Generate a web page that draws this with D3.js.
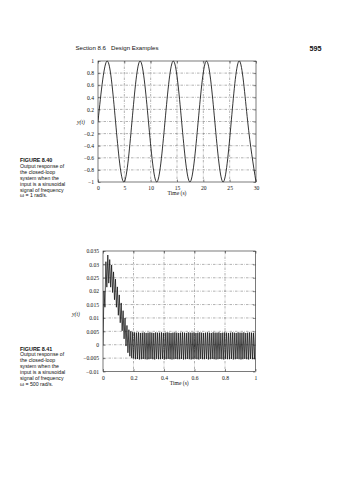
<!DOCTYPE html>
<html><head><meta charset="utf-8">
<script src="https://cdn.jsdelivr.net/npm/d3@7"></script>
<style>body{margin:0;background:#fff} svg{display:block}</style>
</head><body>
<script>
// ---------- data ----------
const topTimes  = [0,1.75,3.33,4.9,6.45,8.0,9.58,11.15,12.72,14.3,15.88,17.45,19.02,20.6,22.18,23.75,25.3,26.85,28.42,30];
const topValues = [0,1,0,-1,0,1,0,-1,0,1,0,-1,0,1,0,-1,0,1,0,-1];
const topXTicks = [0,5,10,15,20,25,30];
const topYTicks = [1,0.8,0.6,0.4,0.2,0,-0.2,-0.4,-0.6,-0.8,-1];

const botOmega = 500; // rad/s, extremes are half a period apart
const botExtremes = [
  0, 0.0200, 0.0140, 0.0310, 0.0215, 0.0335, 0.0230, 0.0318, 0.0215, 0.0298,
  0.0195, 0.0272, 0.0168, 0.0245, 0.0140, 0.0216, 0.0110, 0.0186, 0.0082, 0.0156,
  0.0052, 0.0127, 0.0022, 0.0100, -0.0005, 0.0072, -0.0030, 0.0056, -0.0043, 0.0050,
  -0.0049, 0.0047, -0.0052, 0.0046, -0.0054, 0.0045, -0.0053, 0.0046, -0.0055, 0.0044,
  -0.0054, 0.0045, -0.0053, 0.0046, -0.0054, 0.0044, -0.0055, 0.0045, -0.0054, 0.0046,
  -0.0053, 0.0045, -0.0054, 0.0044, -0.0055, 0.0046, -0.0053, 0.0045, -0.0054, 0.0045,
  -0.0054, 0.0046, -0.0053, 0.0044, -0.0055, 0.0045, -0.0054, 0.0046, -0.0053, 0.0045,
  -0.0054, 0.0044, -0.0055, 0.0045, -0.0054, 0.0046, -0.0053, 0.0045, -0.0054, 0.0044,
  -0.0054, 0.0045, -0.0053, 0.0046, -0.0055, 0.0045, -0.0054, 0.0044, -0.0053, 0.0046,
  -0.0054, 0.0045, -0.0055, 0.0045, -0.0054, 0.0046, -0.0053, 0.0044, -0.0054, 0.0045,
  -0.0055, 0.0046, -0.0053, 0.0045, -0.0054, 0.0044, -0.0054, 0.0045, -0.0053, 0.0046,
  -0.0055, 0.0045, -0.0054, 0.0044, -0.0053, 0.0046, -0.0054, 0.0045, -0.0055, 0.0045,
  -0.0054, 0.0046, -0.0053, 0.0044, -0.0054, 0.0045, -0.0055, 0.0046, -0.0053, 0.0045,
  -0.0054, 0.0044, -0.0054, 0.0045, -0.0053, 0.0046, -0.0055, 0.0045, -0.0054, 0.0044,
  -0.0053, 0.0046, -0.0054, 0.0045, -0.0055, 0.0045, -0.0054, 0.0046, -0.0053, 0.0044,
  -0.0054, 0.0045, -0.0055, 0.0046, -0.0053, 0.0045, -0.0054, 0.0044, -0.0054, 0.0045
];
const botXTicks = [0,0.2,0.4,0.6,0.8,1];
const botYTicks = [0.035,0.03,0.025,0.02,0.015,0.01,0.005,0,-0.005,-0.01];

const headerLeft = "Section 8.6   Design Examples";
const headerPage = "595";
const captionTopTitle = "FIGURE 8.40";
const captionTopLines = ["Output response of","the closed-loop","system when the","input is a sinusoidal","signal of frequency","\u03c9 = 1 rad/s."];
const captionBotTitle = "FIGURE 8.41";
const captionBotLines = ["Output response of","the closed-loop","system when the","input is a sinusoidal","signal of frequency","\u03c9 = 500 rad/s."];

// ---------- drawing ----------
const W = 341, H = 480;
const svg = d3.select("body").append("svg").attr("width", W).attr("height", H);
const SERIF = "'Liberation Serif','Times New Roman',serif";
const SANS = "'Liberation Sans',Arial,Helvetica,sans-serif";
const fmt = v => (v < 0 ? "\u2212" + Math.abs(v) : String(v));

svg.append("text").attr("x", 75.5).attr("y", 50).attr("font-family", SANS)
  .attr("font-size", 6.1).attr("fill", "#111")
  .style("white-space","pre").text(headerLeft);
svg.append("text").attr("x", 321.5).attr("y", 50.5).attr("text-anchor","end").attr("font-family", SANS)
  .attr("font-size", 7.2).attr("font-weight","bold").attr("fill", "#111").text(headerPage);

function caption(title, lines, x, y) {
  svg.append("text").attr("x", x).attr("y", y).attr("font-family", SANS).attr("font-size", 5.4)
    .attr("font-weight", "bold").attr("fill","#111").text(title);
  lines.forEach((l, i) => svg.append("text").attr("x", x).attr("y", y + 5.9 * (i + 1))
    .attr("font-family", SANS).attr("font-size", 5.2).attr("fill","#111").text(l));
}
caption(captionTopTitle, captionTopLines, 20, 162);
caption(captionBotTitle, captionBotLines, 20, 350.5);

function panel(o) {
  const g = svg.append("g");
  const x = d3.scaleLinear().domain(o.xDomain).range([o.left, o.right]);
  const y = d3.scaleLinear().domain(o.yDomain).range([o.bottom, o.top]);
  const clipId = "clip" + o.id;
  svg.append("clipPath").attr("id", clipId).append("rect")
    .attr("x", o.left).attr("y", o.top - 0.5).attr("width", o.right - o.left).attr("height", o.bottom - o.top + 1);

  // grid
  g.selectAll(".gx").data(o.xTicks.slice(1, -1)).join("line")
    .attr("x1", d => x(d)).attr("x2", d => x(d)).attr("y1", o.top).attr("y2", o.bottom)
    .attr("stroke", "#666").attr("stroke-width", 0.5).attr("stroke-dasharray", "2.5,1.2,0.6,1.2");
  g.selectAll(".gy").data(o.yTicks.slice(1, -1)).join("line")
    .attr("y1", d => y(d)).attr("y2", d => y(d)).attr("x1", o.left).attr("x2", o.right)
    .attr("stroke", "#666").attr("stroke-width", 0.5).attr("stroke-dasharray", "2.5,1.2,0.6,1.2");

  // data
  g.append("path").datum(o.points).attr("clip-path", `url(#${clipId})`)
    .attr("fill", "none").attr("stroke", o.stroke).attr("stroke-width", o.strokeWidth)
    .attr("d", d3.line().x(d => x(d[0])).y(d => y(d[1])).curve(o.curve));

  // frame
  g.append("rect").attr("x", o.left).attr("y", o.top).attr("width", o.right - o.left).attr("height", o.bottom - o.top)
    .attr("fill", "none").attr("stroke", "#222").attr("stroke-width", 0.6);

  // axes with inward ticks
  const ax = g.append("g").attr("transform", `translate(0,${o.bottom})`)
    .call(d3.axisBottom(x).tickValues(o.xTicks).tickFormat(fmt).tickSizeInner(-2.5).tickSizeOuter(0).tickPadding(4.5));
  const ay = g.append("g").attr("transform", `translate(${o.left},0)`)
    .call(d3.axisLeft(y).tickValues(o.yTicks).tickFormat(fmt).tickSizeInner(-2.5).tickSizeOuter(0).tickPadding(4));
  const axT = g.append("g").attr("transform", `translate(0,${o.top})`)
    .call(d3.axisTop(x).tickValues(o.xTicks).tickFormat("").tickSizeInner(-2.5).tickSizeOuter(0));
  const ayR = g.append("g").attr("transform", `translate(${o.right},0)`)
    .call(d3.axisRight(y).tickValues(o.yTicks).tickFormat("").tickSizeInner(-2.5).tickSizeOuter(0));
  [ax, ay, axT, ayR].forEach(a => {
    a.select(".domain").remove();
    a.selectAll("line").attr("stroke", "#222").attr("stroke-width", 0.5);
    a.selectAll("text").attr("font-family", SERIF).attr("font-size", 5.6).attr("fill", "#111");
  });

  g.append("text").attr("x", (o.left + o.right) / 2).attr("y", o.xLabelY).attr("text-anchor", "middle")
    .attr("font-family", SERIF).attr("font-size", 5.6).attr("fill","#111").text("Time (s)");
  g.append("text").attr("x", o.yLabelX).attr("y", o.yLabelY).attr("text-anchor", "middle")
    .attr("font-family", SERIF).attr("font-size", 5.6).attr("font-style","italic").attr("fill","#111").text("y(t)");
}

panel({
  id: "top", left: 98, right: 256, top: 61, bottom: 182,
  xDomain: [0, 30], yDomain: [-1, 1], xTicks: topXTicks, yTicks: topYTicks,
  points: topTimes.map((t, i) => [t, topValues[i]]), curve: d3.curveNatural,
  stroke: "#111", strokeWidth: 0.85, xLabelY: 195, yLabelX: 81, yLabelY: 123.5
});

const halfPeriod = Math.PI / botOmega;
panel({
  id: "bot", left: 103, right: 255.5, top: 251, bottom: 371.5,
  xDomain: [0, 1], yDomain: [-0.01, 0.035], xTicks: botXTicks, yTicks: botYTicks,
  points: botExtremes.map((v, i) => [i * halfPeriod, v]), curve: d3.curveLinear,
  stroke: "#111", strokeWidth: 0.75, xLabelY: 384.5, yLabelX: 76, yLabelY: 315.5
});
</script>
</body></html>
